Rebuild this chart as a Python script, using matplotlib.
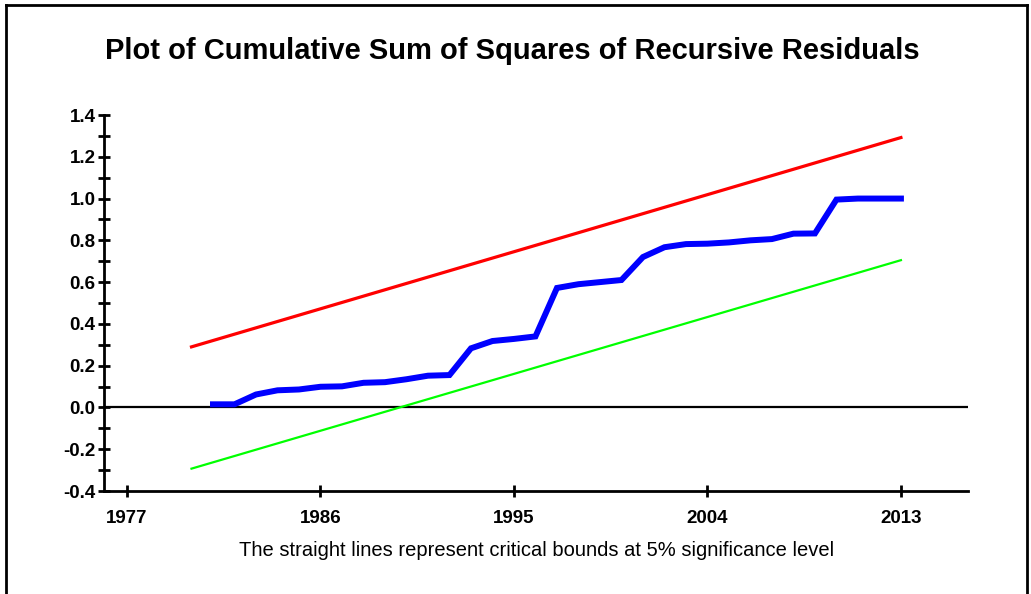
import matplotlib
matplotlib.use("Agg")
import matplotlib.pyplot as plt
from matplotlib.lines import Line2D
from matplotlib.ticker import MultipleLocator

# cumulative sum of squares of recursive residuals
years = [1981, 1982, 1983, 1984, 1985, 1986, 1987, 1988, 1989, 1990, 1991,
         1992, 1993, 1994, 1995, 1996, 1997, 1998, 1999, 2000, 2001, 2002,
         2003, 2004, 2005, 2006, 2007, 2008, 2009, 2010, 2011, 2012, 2013]
cusumsq = [0.015, 0.015, 0.062, 0.082, 0.086, 0.099, 0.101, 0.118, 0.121, 0.135,
           0.152, 0.155, 0.283, 0.318, 0.328, 0.340, 0.572, 0.590, 0.600, 0.610,
           0.720, 0.767, 0.782, 0.784, 0.790, 0.800, 0.806, 0.832, 0.833, 0.995,
           1.000, 1.000, 1.000]

# 5% critical bounds (straight lines)
bound_years = [1980, 2013]
upper_bound = [0.290, 1.292]
lower_bound = [-0.293, 0.705]

xticks = [1977, 1986, 1995, 2004, 2013]

TITLE = "Plot of Cumulative Sum of Squares of Recursive Residuals"
NOTE = "The straight lines represent critical bounds at 5% significance level"


def cusumsq_plot():
    fig = plt.figure(figsize=(10.31, 5.94), dpi=100)
    ax = fig.add_axes([104 / 1031, 1 - 491 / 594, 864 / 1031, 376 / 594])

    ax.axhline(0, color="black", linewidth=1.6, zorder=1)
    ax.plot(bound_years, lower_bound, color="#00ff00", linewidth=1.6, zorder=2)
    ax.plot(bound_years, upper_bound, color="#ff0000", linewidth=2.3, zorder=2)
    ax.plot(years, cusumsq, color="#0000ff", linewidth=4.3, zorder=3,
            solid_joinstyle="miter")

    ax.set_xlim(1975.93, 2016.12)
    ax.set_ylim(-0.4, 1.4)
    ax.set_xticks(xticks)
    ax.yaxis.set_major_locator(MultipleLocator(0.2))
    ax.yaxis.set_minor_locator(MultipleLocator(0.1))
    ax.yaxis.set_major_formatter(lambda v, p: f"{v:.1f}")

    for side in ("top", "right"):
        ax.spines[side].set_visible(False)
    for side in ("left", "bottom"):
        ax.spines[side].set_linewidth(2.0)

    ax.tick_params(axis="both", which="both", direction="inout", length=8,
                   width=2.0, color="black")
    ax.tick_params(axis="x", pad=10)
    ax.tick_params(axis="y", pad=2)
    for lbl in ax.get_xticklabels() + ax.get_yticklabels():
        lbl.set_family("Liberation Sans")
        lbl.set_fontweight("bold")
        lbl.set_fontsize(13.5)

    fig.text(512 / 1031, 1 - 51 / 594, TITLE, ha="center", va="center",
             family="Liberation Sans", fontweight="bold", fontsize=21)
    fig.text(537 / 1031, 1 - 551 / 594, NOTE, ha="center", va="center",
             family="Liberation Sans", fontsize=14.5)

    # frame around the picture
    for xs, ys in (([6, 6], [594, 5]), ([6, 1027], [5, 5]), ([1027, 1027], [5, 594])):
        fig.add_artist(Line2D([x / 1031 for x in xs], [1 - y / 594 for y in ys],
                              color="black", linewidth=2.0))

    fig.savefig("out.png", dpi=100)


if __name__ == "__main__":
    cusumsq_plot()
